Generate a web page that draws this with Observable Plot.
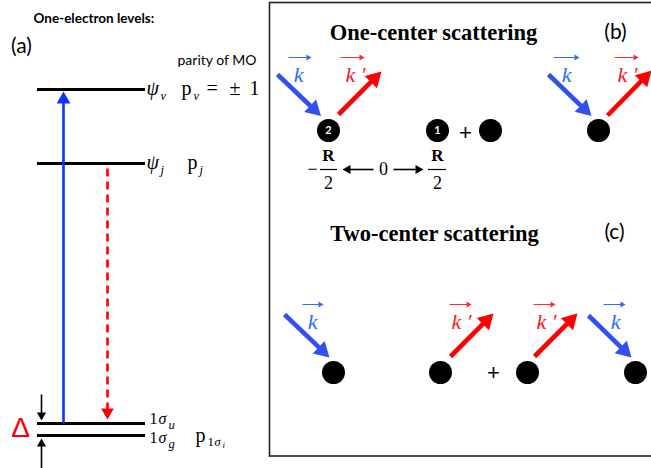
<!DOCTYPE html>
<html><head><meta charset="utf-8">
<script src="https://cdn.jsdelivr.net/npm/d3@7"></script>
<script src="https://cdn.jsdelivr.net/npm/@observablehq/plot@0.6"></script>
<style>body{margin:0;background:#fff}</style>
</head><body><div id="chart"></div>
<script>
// ---- data (diagram coordinates) ----
const levels = [
  {name: "ψν", y: 89}, {name: "ψj", y: 163}, {name: "1σu", y: 423}, {name: "1σg", y: 435}
];
const levelSpan = {x1: 37, x2: 145};
const panelBox = [{x1: 269.5, x2: 700, y1: 2.5, y2: 456}];

const arrows = [
  // panel (a)
  {x1: 63, y1: 423, x2: 63, y2: 91, kind: "blueThin"},
  {x1: 107, y1: 168, x2: 107, y2: 419, kind: "redDash"},
  {x1: 41, y1: 394, x2: 41, y2: 420, kind: "black"},
  {x1: 41, y1: 468, x2: 41, y2: 438, kind: "black"},
  // panel (b)
  {x1: 277, y1: 74, x2: 320.5, y2: 115.5, kind: "blueThick"},
  {x1: 338, y1: 114, x2: 381, y2: 71, kind: "redThick"},
  {x1: 548, y1: 74, x2: 591, y2: 115.5, kind: "blueThick"},
  {x1: 607, y1: 115, x2: 651, y2: 70, kind: "redThick"},
  {x1: 373, y1: 169, x2: 342, y2: 169, kind: "black"},
  {x1: 393, y1: 169, x2: 423, y2: 169, kind: "black"},
  // panel (c)
  {x1: 284, y1: 314, x2: 329, y2: 357, kind: "blueThick"},
  {x1: 450, y1: 356, x2: 493, y2: 313, kind: "redThick"},
  {x1: 534, y1: 356, x2: 577, y2: 313, kind: "redThick"},
  {x1: 588, y1: 315, x2: 631, y2: 357, kind: "blueThick"},
  // vector over-arrows of k labels
  {x1: 288, y1: 57, x2: 311, y2: 57, kind: "vecBlue"},
  {x1: 340, y1: 57, x2: 364, y2: 57, kind: "vecRed"},
  {x1: 553, y1: 57, x2: 579, y2: 57, kind: "vecBlue"},
  {x1: 614, y1: 57, x2: 638, y2: 57, kind: "vecRed"},
  {x1: 302, y1: 304, x2: 323, y2: 304, kind: "vecBlue"},
  {x1: 449, y1: 304, x2: 471, y2: 304, kind: "vecRed"},
  {x1: 533, y1: 304, x2: 555, y2: 304, kind: "vecRed"},
  {x1: 603, y1: 304, x2: 625, y2: 304, kind: "vecBlue"}
];

const atoms = [
  {x: 328, y: 130, label: "2"}, {x: 437, y: 130, label: "1"},
  {x: 490, y: 130, label: ""}, {x: 598, y: 130, label: ""},
  {x: 333, y: 372, label: ""}, {x: 440, y: 372, label: ""},
  {x: 527, y: 372, label: ""}, {x: 635, y: 372, label: ""}
];

const fractionBars = [{x1: 320, x2: 337, y: 169}, {x1: 428, x2: 446, y: 169}];

const labels = [
  {text: "One-electron levels:", x: 33, y: 18, kind: "heading"},
  {text: "(a)", x: 21, y: 46, kind: "panel"},
  {text: "(b)", x: 615, y: 32, kind: "panel"},
  {text: "(c)", x: 614, y: 232, kind: "panel"},
  {text: "parity of MO", x: 177, y: 60, kind: "note"},
  {text: "ψ", x: 146, y: 88, kind: "mathIt"},
  {text: "ν", x: 160, y: 95, kind: "sub"},
  {text: "p", x: 181, y: 88, kind: "math"},
  {text: "ν", x: 193, y: 95, kind: "sub"},
  {text: "=", x: 206, y: 88, kind: "math"},
  {text: "±", x: 229, y: 88, kind: "math"},
  {text: "1", x: 249, y: 88, kind: "math"},
  {text: "ψ", x: 146, y: 162, kind: "mathIt"},
  {text: "j", x: 160, y: 169, kind: "sub"},
  {text: "p", x: 187, y: 162, kind: "math"},
  {text: "j", x: 199, y: 169, kind: "sub"},
  {text: "1", x: 149, y: 418, kind: "levelUp"},
  {text: "σ", x: 158, y: 418, kind: "levelIt"},
  {text: "u", x: 168, y: 424, kind: "sub"},
  {text: "1", x: 149, y: 437, kind: "levelUp"},
  {text: "σ", x: 158, y: 437, kind: "levelIt"},
  {text: "g", x: 168, y: 443, kind: "sub"},
  {text: "p", x: 195, y: 435, kind: "math"},
  {text: "1", x: 207, y: 441, kind: "subUp"},
  {text: "σ", x: 214, y: 441, kind: "sub"},
  {text: "i", x: 222, y: 445, kind: "subSmall"},
  {text: "Δ", x: 20, y: 428, kind: "delta"},
  {text: "One-center scattering", x: 433, y: 32, kind: "title"},
  {text: "Two-center scattering", x: 434, y: 233, kind: "title"},
  {text: "+", x: 465, y: 132, kind: "plus"},
  {text: "+", x: 493, y: 372, kind: "plus"},
  {text: "−", x: 312, y: 169, kind: "serifMid"},
  {text: "R", x: 328, y: 155, kind: "boldR"},
  {text: "2", x: 328, y: 183, kind: "serifMid"},
  {text: "0", x: 383, y: 169, kind: "serifMid"},
  {text: "R", x: 437, y: 155, kind: "boldR"},
  {text: "2", x: 437, y: 183, kind: "serifMid"},
  {text: "k", x: 298, y: 74, kind: "kBlue"},
  {text: "k ′", x: 355, y: 74, kind: "kRed"},
  {text: "k", x: 566, y: 74, kind: "kBlue"},
  {text: "k ′", x: 627, y: 74, kind: "kRed"},
  {text: "k", x: 312, y: 321, kind: "kBlue"},
  {text: "k ′", x: 461, y: 321, kind: "kRed"},
  {text: "k ′", x: 546, y: 321, kind: "kRed"},
  {text: "k", x: 615, y: 321, kind: "kBlue"}
];

// ---- styles ----
const arrowStyles = {
  blueThin: {color: "#0a36ff", width: 2.6, head: 12},
  redDash: {color: "#ff0000", width: 2.6, head: 11, dash: "8,5"},
  black: {color: "#000", width: 1.6, head: 8},
  blueThick: {color: "#3350ee", width: 4.6, head: 15},
  redThick: {color: "#ff0000", width: 4.6, head: 15},
  vecBlue: {color: "#2f6bff", width: 1, head: 5},
  vecRed: {color: "#ff2a2a", width: 1, head: 5}
};
const serif = "Liberation Serif, DejaVu Serif, serif";
const sans = "Lato, Open Sans, sans-serif";
const textStyles = {
  heading: {fontFamily: sans, fontSize: 13.5, fontWeight: "bold", textAnchor: "start"},
  panel: {fontFamily: sans, fontSize: 21, textAnchor: "middle"},
  note: {fontFamily: sans, fontSize: 14, textAnchor: "start"},
  math: {fontFamily: serif, fontSize: 20, textAnchor: "start"},
  mathIt: {fontFamily: serif, fontSize: 20, fontStyle: "italic", textAnchor: "start"},
  levelUp: {fontFamily: serif, fontSize: 16, textAnchor: "start"},
  levelIt: {fontFamily: serif, fontSize: 16, fontStyle: "italic", textAnchor: "start"},
  sub: {fontFamily: serif, fontSize: 12.5, fontStyle: "italic", textAnchor: "start"},
  subUp: {fontFamily: serif, fontSize: 13, textAnchor: "start"},
  subSmall: {fontFamily: serif, fontSize: 9, fontStyle: "italic", textAnchor: "start"},
  delta: {fontFamily: "Liberation Sans, sans-serif", fontSize: 28, fill: "#ff0000", textAnchor: "middle"},
  title: {fontFamily: serif, fontSize: 22.5, fontWeight: "bold", textAnchor: "middle"},
  plus: {fontFamily: "Liberation Sans, sans-serif", fontSize: 22, textAnchor: "middle"},
  serifMid: {fontFamily: serif, fontSize: 18, textAnchor: "middle"},
  boldR: {fontFamily: serif, fontSize: 17, fontWeight: "bold", textAnchor: "middle"},
  kBlue: {fontFamily: serif, fontSize: 22, fontStyle: "italic", fill: "#2f6bff", textAnchor: "middle"},
  kRed: {fontFamily: serif, fontSize: 22, fontStyle: "italic", fill: "#ff1a1a", textAnchor: "middle"}
};

// ---- geometry helpers for filled arrow heads ----
function arrowGeom(a) {
  const L = arrowStyles[a.kind].head;
  const dx = a.x2 - a.x1, dy = a.y2 - a.y1, len = Math.hypot(dx, dy);
  const ux = dx / len, uy = dy / len;
  return {
    ...a,
    sx2: a.x2 - ux * L * 0.8, sy2: a.y2 - uy * L * 0.8,
    hx: a.x2 - ux * 2 * L / 3, hy: a.y2 - uy * 2 * L / 3,
    rot: Math.atan2(dx, -dy) * 180 / Math.PI
  };
}
const A = arrows.map(arrowGeom);

const marks = [
  Plot.rect(panelBox, {x1: "x1", x2: "x2", y1: "y1", y2: "y2", fill: "none", stroke: "#222", strokeWidth: 1.6}),
  Plot.ruleY(levels, {y: "y", x1: levelSpan.x1, x2: levelSpan.x2, stroke: "#000", strokeWidth: 3}),
  Plot.ruleY(fractionBars, {y: "y", x1: "x1", x2: "x2", stroke: "#000", strokeWidth: 1.2})
];
for (const [kind, st] of Object.entries(arrowStyles)) {
  const data = A.filter(d => d.kind === kind);
  const L = st.head;
  const r = Math.sqrt((L / 3) ** 2 * 3 * Math.sqrt(3) / Math.PI);
  marks.push(Plot.link(data, {x1: "x1", y1: "y1", x2: "sx2", y2: "sy2", stroke: st.color, strokeWidth: st.width, strokeDasharray: st.dash}));
  marks.push(Plot.dot(data, {x: "hx", y: "hy", symbol: "triangle", r, rotate: "rot", fill: st.color, stroke: "none"}));
}
marks.push(Plot.dot(atoms, {x: "x", y: "y", r: 11.5, fill: "#000"}));
marks.push(Plot.text(atoms, {x: "x", y: "y", text: "label", fill: "#fff", fontFamily: sans, fontWeight: "bold", fontSize: 11}));
for (const [kind, st] of Object.entries(textStyles)) {
  marks.push(Plot.text(labels.filter(d => d.kind === kind), {x: "x", y: "y", text: "text", fill: "#000", ...st}));
}

const chart = Plot.plot({
  width: 651, height: 468,
  margin: 0,
  x: {domain: [0, 651], range: [0, 651], axis: null},
  y: {domain: [0, 468], range: [0, 468], axis: null},
  style: {background: "#fff"},
  marks
});
document.getElementById("chart").append(chart);
</script>
</body></html>
